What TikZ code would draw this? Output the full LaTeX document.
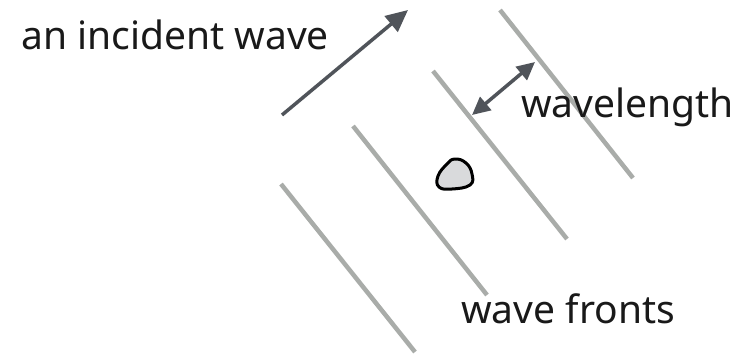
\documentclass[tikz,border=0pt]{standalone}
\usepackage{fontspec}
\setmainfont{Noto Sans}
\usetikzlibrary{arrows.meta}
\definecolor{frontgray}{HTML}{A9ACA9}
\definecolor{raygray}{HTML}{50545A}
\definecolor{blobgray}{HTML}{D9DADC}
\tikzset{
  front/.style={draw=frontgray, line width=4.5pt},
  ray/.style={draw=raygray, line width=3.5pt, -{Triangle[length=22pt,width=20pt]}},
  span/.style={draw=raygray, line width=3.5pt, {Triangle[length=18pt,width=17pt]}-{Triangle[length=18pt,width=17pt]}},
  label/.style={anchor=base west, inner sep=0pt, text=black!90}
}
\begin{document}
\begin{tikzpicture}[x=1pt, y=-1pt, font=\fontsize{39}{44}\selectfont, line join=round]
\useasboundingbox (0,0) rectangle (738,353);
\path
(281,184) coordinate (F1a)
(415,352) coordinate (F1b)
(353,126) coordinate (F2a)
(487,295) coordinate (F2b)
(433,71)  coordinate (F3a)
(567,239) coordinate (F3b)
(500,10)  coordinate (F4a)
(633,178) coordinate (F4b)
(282,115) coordinate (R0)
(408,10)  coordinate (R1)
(472,115) coordinate (W0)
(535,62)  coordinate (W1)
;
% wave fronts
\foreach \f in {1,...,4}
\draw[front] (F\f a)--(F\f b);
% incident wave and wavelength
\draw[ray] (R0)--(R1);
\draw[span] (W0)--(W1);
% the obstacle
\draw[line width=3pt, fill=blobgray] plot[smooth cycle, tension=0.75] coordinates
{(455,159) (466,163) (472,174) (470,185) (452,189) (439,187) (438,176) (447,164)};
\node[label] (incident) at (21,49) {an incident wave};
\node[label] (wavelength) at (521,117) {wavelength};
\node[label] (fronts) at (461,323) {wave fronts};
\end{tikzpicture}
\end{document}
